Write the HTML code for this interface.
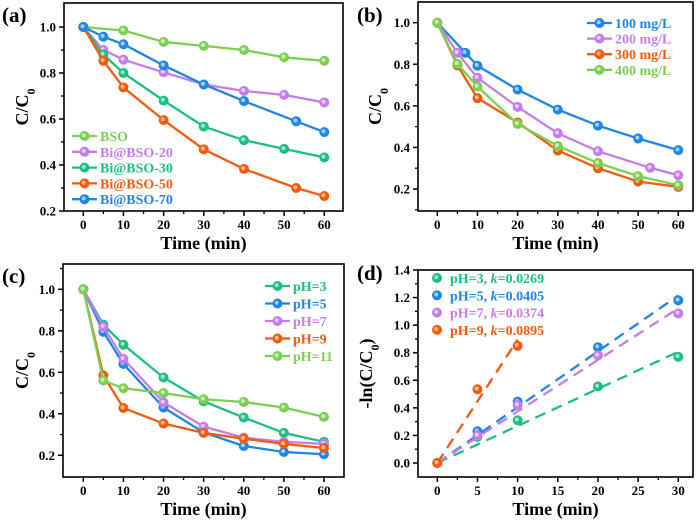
<!DOCTYPE html>
<html><head><meta charset="utf-8"><style>
html,body{margin:0;padding:0;background:#fff}
svg{display:block;font-family:"Liberation Serif",serif;font-weight:bold}
</style></head><body>
<svg id="fig" width="700" height="520" viewBox="0 0 700 520"></svg>
<script>
// ---- data ----
const aNames=["BSO","Bi@BSO-20","Bi@BSO-30","Bi@BSO-50","Bi@BSO-70"];
const aX=[[0,10,20,30,40,50,60],[0,5,10,20,30,40,50,60],[0,5,10,20,30,40,50,60],[0,5,10,20,30,40,53,60],[0,5,10,20,30,40,53,60]];
const aY=[[1,.985,.935,.918,.9,.868,.853],[1,.9,.858,.803,.75,.722,.705,.672],[1,.88,.8,.68,.567,.508,.47,.433],[1,.853,.737,.595,.468,.383,.3,.265],[1,.958,.925,.833,.75,.678,.59,.543]];
const bNames=["100 mg/L","200 mg/L","300 mg/L","400 mg/L"];
const bX=[[0,7,10,20,30,40,50,60],[0,5,10,20,30,40,53,60],[0,5,10,20,30,40,50,60],[0,5,10,20,30,40,50,60]];
const bY=[[1,.855,.793,.678,.582,.505,.443,.387],[1,.855,.735,.595,.468,.382,.302,.266],[1,.795,.637,.52,.385,.3,.236,.21],[1,.802,.693,.513,.407,.325,.262,.218]];
const cNames=["pH=3","pH=5","pH=7","pH=9","pH=11"];
const cX=[0,5,10,20,30,40,50,60];
const cY=[[1,.83,.733,.575,.46,.382,.308,.265],[1,.795,.64,.43,.31,.245,.216,.205],[1,.82,.665,.455,.338,.285,.265,.255],[1,.585,.428,.353,.308,.28,.255,.235],[1,.56,.523,.5,.47,.457,.43,.385]];
const dNames=["pH=3, ","pH=5, ","pH=7, ","pH=9, "];
const dK=[0.0269,0.0405,0.0374,0.0895];
const dX=[[0,5,10,20,30],[0,5,10,20,30],[0,5,10,20,30],[0,5,10]];
const dY=[[0,.19,.31,.555,.77],[0,.23,.445,.84,1.18],[0,.2,.42,.78,1.085],[0,.535,.85]];
const xTicks60=[0,10,20,30,40,50,60];
const xTicks30=[0,5,10,15,20,25,30];
const yTicksA=[0.2,0.4,0.6,0.8,1.0];
const yTicksD=[0.0,0.2,0.4,0.6,0.8,1.0,1.2,1.4];

const GREEN="#7dcf52",PURPLE="#c57ee9",TEAL="#1dbf80",ORANGE="#f25a0c",BLUE="#1f86e6";
const NS="http://www.w3.org/2000/svg";
const svg=document.getElementById('fig');
function mk(tag,attrs,parent){const e=document.createElementNS(NS,tag);for(const k in attrs)e.setAttribute(k,attrs[k]);(parent||svg).appendChild(e);return e;}

function panel(p){
  const g=mk('g',{});
  
  
  const X=v=>p.x0+(v-p.xa)*(p.x1-p.x0)/(p.xb-p.xa);
  const Y=v=>p.y0+(v-p.ya)*(p.y1-p.y0)/(p.yb-p.ya);
  // frame
  const fr=mk('rect',{x:p.L,y:p.T,width:p.R-p.L,height:p.B-p.T,fill:'none',stroke:'#000','stroke-width':1.6},g);
  
  
  // x ticks
  const step=p.xt[1]-p.xt[0];
  for(const t of p.xt){
    mk('line',{x1:X(t),x2:X(t),y1:p.B,y2:p.B+5,stroke:'#000','stroke-width':1.5},g);
    const tx=mk('text',{x:X(t),y:p.B+18,'text-anchor':'middle','font-size':13},g);tx.textContent=String(t);
    
    
  }
  for(let t=p.xt[0]-step/2;t<=p.xt[p.xt.length-1]+step/2;t+=step){
    const px=X(t); if(px>p.L+1&&px<p.R-1) mk('line',{x1:px,x2:px,y1:p.B,y2:p.B+3,stroke:'#000','stroke-width':1.3},g);
  }
  for(const t of p.yt){
    mk('line',{x1:p.L-5,x2:p.L,y1:Y(t),y2:Y(t),stroke:'#000','stroke-width':1.5},g);
    const tx=mk('text',{x:p.L-8,y:Y(t)+4.5,'text-anchor':'end','font-size':13},g);tx.textContent=t.toFixed(1);
    
    
    const m=Y(t+(p.yt[1]-p.yt[0])/2); if(m>p.T+1&&m<p.B-1) mk('line',{x1:p.L-3,x2:p.L,y1:m,y2:m,stroke:'#000','stroke-width':1.3},g);
  }
  const m0=Y(p.yt[0]-(p.yt[1]-p.yt[0])/2); if(m0>p.T+1&&m0<p.B-1) mk('line',{x1:p.L-3,x2:p.L,y1:m0,y2:m0,stroke:'#000','stroke-width':1.3},g);
  // titles
  const xt=mk('text',{x:(p.L+p.R)/2,y:p.B+38,'text-anchor':'middle','font-size':18},g);xt.textContent='Time (min)';
  
  
  const yt=mk('text',{transform:`translate(${p.ytx},${(p.T+p.B)/2}) rotate(-90)`,'text-anchor':'middle','font-size':18},g);
  yt.innerHTML=p.ytitle;
  
  
  const pl=mk('text',{x:p.lx,y:p.ly,'font-size':21},g);pl.textContent=p.label;
  
  
  return {g,X,Y};
}
function marker(g,x,y,c){
  mk('circle',{cx:x,cy:y,r:4.6,fill:c,stroke:c,'stroke-width':0.8},g);
  mk('circle',{cx:x-0.8,cy:y-0.8,r:2,fill:'#fff','fill-opacity':0.6},g);
}
function series(P,xs,ys,c,nm){
  const s=mk('g',{},P.g);
  
  
  mk('polyline',{points:xs.map((x,i)=>P.X(x)+','+P.Y(ys[i])).join(' '),fill:'none',stroke:c,'stroke-width':2.3},s);
  xs.forEach((x,i)=>marker(s,P.X(x),P.Y(ys[i]),c));
}
function legendLine(P,x,y,c,txt){
  const l=mk('g',{},P.g);
  
  
  mk('line',{x1:x,x2:x+25,y1:y,y2:y,stroke:c,'stroke-width':2.3},l);
  marker(l,x+12.5,y,c);
  const t=mk('text',{x:x+28,y:y+5,'font-size':14,fill:c},l);t.textContent=txt;
}
const CT='C/C<tspan baseline-shift="sub" font-size="12">0</tspan>';

// (a)
const A=panel({name:'panel-a',L:64,R:343,T:3,B:211,x0:83.3,x1:324.3,xa:0,xb:60,y0:27,y1:211,ya:1,yb:0.2,xt:xTicks60,yt:yTicksA,ytitle:CT,ytx:28,label:'(a)',lx:2,ly:22});
const aC=[GREEN,PURPLE,TEAL,ORANGE,BLUE];
aNames.forEach((n,i)=>series(A,aX[i],aY[i],aC[i],'series-'+n.toLowerCase().replace('@','-at-')));
aNames.forEach((n,i)=>legendLine(A,72,136+i*15.8,aC[i],n));

// (b)
const B=panel({name:'panel-b',L:418,R:693,T:2,B:211,x0:437.3,x1:678.3,xa:0,xb:60,y0:22.7,y1:189,ya:1,yb:0.2,xt:xTicks60,yt:yTicksA,ytitle:CT,ytx:381,label:'(b)',lx:357,ly:22});
const bC=[BLUE,PURPLE,ORANGE,GREEN];
bNames.forEach((n,i)=>series(B,bX[i],bY[i],bC[i],'series-'+n.replace(/[ \/]/g,'-')));
bNames.forEach((n,i)=>legendLine(B,587,23+i*15.6,bC[i],n));

// (c)
const C=panel({name:'panel-c',L:63,R:344,T:264,B:477,x0:83.3,x1:324,xa:0,xb:60,y0:289.3,y1:455.3,ya:1,yb:0.2,xt:xTicks60,yt:yTicksA,ytitle:CT,ytx:28,label:'(c)',lx:2,ly:283});
const cC=[TEAL,BLUE,PURPLE,ORANGE,GREEN];
cNames.forEach((n,i)=>series(C,cX,cY[i],cC[i],'series-'+n.replace('=','-')));
cNames.forEach((n,i)=>legendLine(C,265,286+i*17.5,cC[i],n));

// (d)
const D=panel({name:'panel-d',L:418,R:693,T:270,B:477,x0:437.3,x1:678.3,xa:0,xb:30,y0:463,y1:270,ya:0,yb:1.4,xt:xTicks30,yt:yTicksD,ytitle:'-ln(C/C<tspan baseline-shift="sub" font-size="12">0</tspan>)',ytx:372,label:'(d)',lx:357,ly:280});
const dC=[TEAL,BLUE,PURPLE,ORANGE];
dNames.forEach((n,i)=>{
  const s=mk('g',{},D.g);
  
  
  const xm=dX[i][dX[i].length-1];
  mk('line',{x1:D.X(0),y1:D.Y(0),x2:D.X(xm),y2:D.Y(dK[i]*xm),stroke:dC[i],'stroke-width':2.3,'stroke-dasharray':'11,7'},s);
  dX[i].forEach((x,j)=>marker(s,D.X(x),D.Y(dY[i][j]),dC[i]));
  const l=mk('g',{},D.g);
  
  
  const ly=278+i*17.3;
  marker(l,437,ly,dC[i]);
  const t=mk('text',{x:450,y:ly+5,'font-size':14,fill:dC[i]},l);
  t.innerHTML=n+'<tspan font-style="italic">k</tspan>='+dK[i].toFixed(4);
});
</script>
</body></html>
